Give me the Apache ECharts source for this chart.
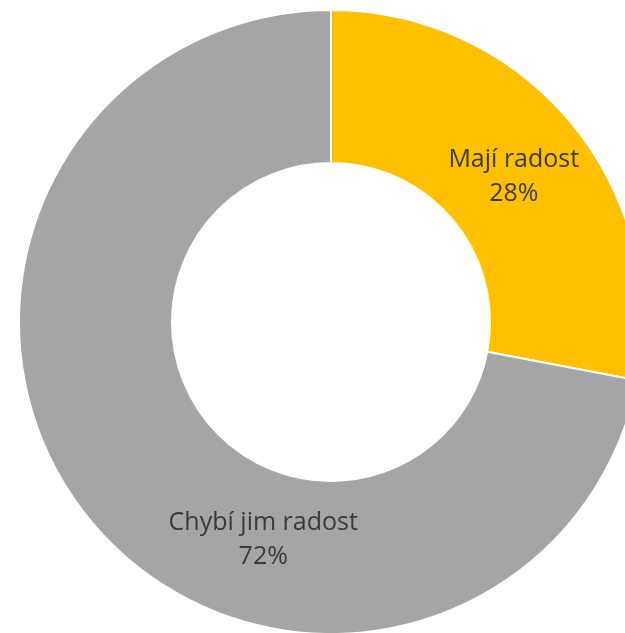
<!DOCTYPE html>
<html>
<head>
<meta charset="utf-8">
<script src="https://cdn.jsdelivr.net/npm/echarts@6/dist/echarts.min.js"></script>
<style>
  html, body { margin: 0; padding: 0; background: #ffffff; }
  #chart { width: 625px; height: 633px; }
</style>
</head>
<body>
<div id="chart"></div>
<script>
// Share of respondents: who has joy and who lacks it
const categories = ['Mají radost', 'Chybí jim radost'];
const values = [28, 72];
const colors = ['#FFC000', '#A5A5A5'];
// Per-slice label shift from the slice's mid-ring point
const labelOffsets = [[-1, 7], [116, 66]];

const chart = echarts.init(document.getElementById('chart'), null, { renderer: 'canvas' });

chart.setOption({
  animation: false,
  backgroundColor: '#ffffff',
  series: [{
    type: 'pie',
    center: [331, 322],
    radius: [159, 312],
    startAngle: 90,
    clockwise: true,
    silent: true,
    itemStyle: { borderColor: '#ffffff', borderWidth: 2 },
    label: {
      show: true,
      position: 'inside',
      formatter: p => p.name + '\n' + p.value + '%',
      fontFamily: 'Open Sans, Noto Sans, sans-serif',
      fontSize: 25,
      lineHeight: 34,
      color: '#3a3a3a',
      align: 'center'
    },
    labelLine: { show: false },
    data: categories.map((name, i) => ({
      name: name,
      value: values[i],
      itemStyle: { color: colors[i] },
      label: { offset: labelOffsets[i] }
    }))
  }]
});
</script>
</body>
</html>
